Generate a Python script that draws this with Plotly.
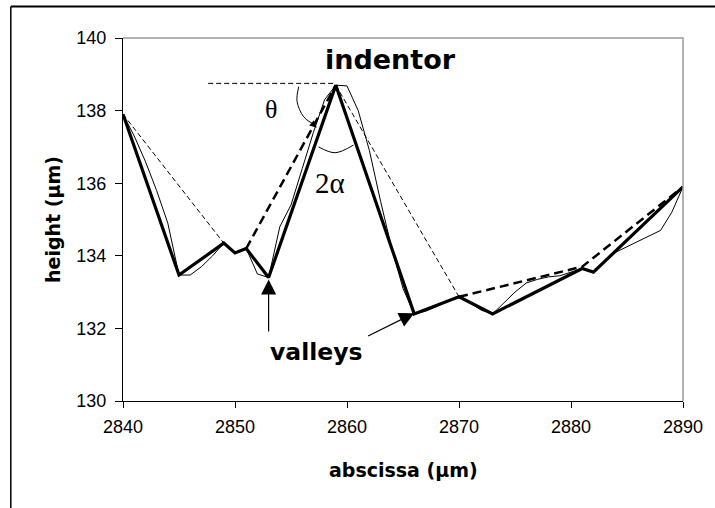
import plotly.graph_objects as go

# ---------------- data ----------------
# coarse profile (thick solid line)
thick_x = [2840, 2845, 2849, 2850, 2851, 2853, 2859, 2866, 2870, 2873, 2881, 2882, 2890]
thick_y = [137.9, 133.47, 134.35, 134.08, 134.2, 133.4, 138.7, 132.4, 132.87, 132.4, 133.65, 133.55, 135.9]

# fine profile (thin solid line)
thin_x = list(range(2840, 2891))
thin_y = [137.9, 137.3, 136.6, 135.8, 134.9, 133.47, 133.47, 133.7, 134.0, 134.35,
          134.08, 134.2, 133.5, 133.4, 134.8, 135.4, 136.4, 137.4, 138.3, 138.7,
          138.68, 138.0, 136.9, 135.5, 134.2, 133.1, 132.4, 132.47, 132.6, 132.75,
          132.87, 132.7, 132.5, 132.4, 132.7, 133.0, 133.25, 133.35, 133.42, 133.45,
          133.55, 133.65, 133.55, 133.85, 134.1, 134.25, 134.4, 134.55, 134.7, 135.2,
          135.9]

# envelope / indentor construction (thin dashed)
env_thin_x = [2840, 2849, None, 2859, 2870, None, 2847.6, 2859]
env_thin_y = [137.9, 134.35, None, 138.7, 132.87, None, 138.75, 138.75]

# envelope (thick dashed)
env_thick_x = [2851, 2859, None, 2870, 2881, 2890]
env_thick_y = [134.2, 138.7, None, 132.87, 133.7, 135.9]

# angle arcs
theta_arc_x = [2855.69, 2855.54, 2856.13, 2856.87]
theta_arc_y = [138.66, 138.25, 137.83, 137.65]
alpha_arc_x = [2857.46, 2858.94, 2860.57]
alpha_arc_y = [137.0, 136.84, 137.05]

x_ticks = [2840, 2850, 2860, 2870, 2880, 2890]
y_ticks = [130, 132, 134, 136, 138, 140]

fig = go.Figure()

fig.add_trace(go.Scatter(x=env_thin_x, y=env_thin_y, mode="lines",
                         line=dict(color="black", width=1, dash="5px,3px"),
                         showlegend=False, hoverinfo="skip"))
fig.add_trace(go.Scatter(x=env_thick_x, y=env_thick_y, mode="lines",
                         line=dict(color="black", width=2.5, dash="9px,5px"),
                         showlegend=False, hoverinfo="skip"))
fig.add_trace(go.Scatter(x=thin_x, y=thin_y, mode="lines",
                         line=dict(color="black", width=1),
                         showlegend=False, hoverinfo="skip"))
fig.add_trace(go.Scatter(x=thick_x, y=thick_y, mode="lines",
                         line=dict(color="black", width=3.2),
                         showlegend=False, hoverinfo="skip"))
fig.add_trace(go.Scatter(x=theta_arc_x, y=theta_arc_y, mode="lines",
                         line=dict(color="black", width=1, shape="spline"),
                         showlegend=False, hoverinfo="skip"))
fig.add_trace(go.Scatter(x=alpha_arc_x, y=alpha_arc_y, mode="lines",
                         line=dict(color="black", width=1, shape="spline"),
                         showlegend=False, hoverinfo="skip"))

ann = []
bold = dict(family="DejaVu Sans", color="black")
ann.append(dict(x=2863.85, y=139.42, xref="x", yref="y", text="<b>indentor</b>",
                showarrow=False, font=dict(size=27, **bold)))
ann.append(dict(x=2857.3, y=131.35, xref="x", yref="y", text="<b>valleys</b>",
                showarrow=False, font=dict(size=23.5, **bold)))
ann.append(dict(x=2853.2, y=138.02, xref="x", yref="y", text="θ",
                showarrow=False, font=dict(size=26, family="Liberation Serif", color="black")))
ann.append(dict(x=2858.44, y=136.0, xref="x", yref="y", text="2α",
                showarrow=False, font=dict(size=29, family="Liberation Serif", color="black")))
# valley arrows
for tip, tail in [((2853, 133.35), (2853, 131.87)), ((2866.0, 132.42), (2861.75, 131.77))]:
    ann.append(dict(x=tip[0], y=tip[1], ax=tail[0], ay=tail[1], xref="x", yref="y",
                    axref="x", ayref="y", text="", showarrow=True, arrowhead=2,
                    arrowsize=2.5, arrowwidth=1.2, arrowcolor="black", standoff=0))
# theta arc arrowhead
ann.append(dict(x=2857.3, y=137.53, ax=2856.87, ay=137.65, xref="x", yref="y",
                axref="x", ayref="y", text="", showarrow=True, arrowhead=2,
                arrowsize=1.4, arrowwidth=1, arrowcolor="black", standoff=0))
# axis titles
ann.append(dict(x=0.5, y=-0.19, xref="paper", yref="paper", text="<b>abscissa (µm)</b>",
                showarrow=False, font=dict(size=19, **bold), yanchor="middle"))
ann.append(dict(x=-0.126, y=0.5, xref="paper", yref="paper", text="<b>height (µm)</b>",
                showarrow=False, font=dict(size=19, **bold), textangle=-90,
                xanchor="center", yanchor="middle"))

# outer frame: left edge at px 10, top edge at px 6 (paper coords relative to plot area)
frame_left = (10 - 123) / 564
frame_top = (401 - 6.5) / 363
shapes = [
    # gray top/right border of plot area
    dict(type="path", path="M 0 1 L 1 1 L 1 0", xref="paper", yref="paper",
         line=dict(color="#999999", width=1.5)),
    # outer frame (left and top edges; right and bottom lie outside the picture)
    dict(type="line", x0=frame_left, x1=frame_left, y0=-0.4, y1=frame_top,
         xref="paper", yref="paper", line=dict(color="black", width=1.5)),
    dict(type="line", x0=frame_left, x1=1.1, y0=frame_top, y1=frame_top,
         xref="paper", yref="paper", line=dict(color="black", width=2)),
]

fig.update_layout(
    width=715, height=508,
    margin=dict(l=123, r=28, t=38, b=107),
    paper_bgcolor="white", plot_bgcolor="white",
    annotations=ann, shapes=shapes,
    xaxis=dict(range=[2840, 2890], tickvals=x_ticks, ticks="outside", ticklen=6,
               tickcolor="black", showline=True, linecolor="black", linewidth=1,
               showgrid=False, zeroline=False, ticklabelstandoff=3,
               tickfont=dict(family="Liberation Sans", size=18, color="black")),
    yaxis=dict(range=[130, 140], tickvals=y_ticks, ticks="outside", ticklen=7,
               tickcolor="black", showline=True, linecolor="black", linewidth=1,
               showgrid=False, zeroline=False, ticklabelstandoff=5,
               tickfont=dict(family="Liberation Sans", size=18, color="black")),
)

fig.write_html(
    "out.html",
    config={"displayModeBar": False},
    post_script="document.body.style.margin='0';document.body.style.overflow='hidden';",
)
